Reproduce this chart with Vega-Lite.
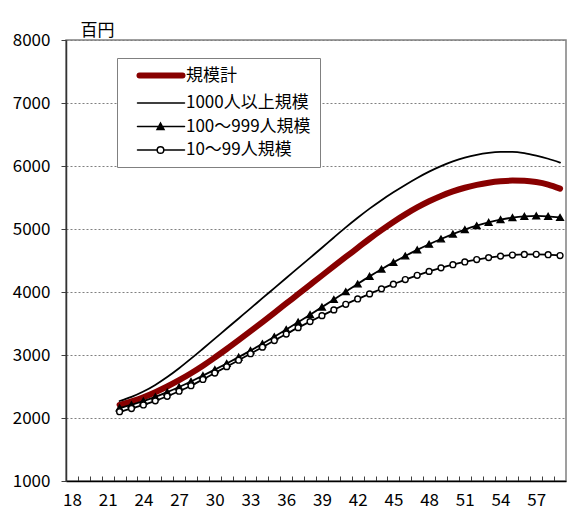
{
  "$schema": "https://vega.github.io/schema/vega-lite/v6.json",
  "width": 500,
  "height": 441,
  "autosize": {"type": "none"},
  "padding": {"left": 66, "top": 40, "right": 12, "bottom": 43},
  "background": "white",
  "config": {
    "font": "Noto Sans CJK JP",
    "view": {"stroke": "#808080", "strokeWidth": 1.5}
  },
  "data": {
    "values": [
      {"age": 22, "規模計": 2210, "1000人以上規模": 2270, "100〜999人規模": 2160, "10〜99人規模": 2100},
      {"age": 23, "規模計": 2265, "1000人以上規模": 2335, "100〜999人規模": 2210, "10〜99人規模": 2150},
      {"age": 24, "規模計": 2330, "1000人以上規模": 2420, "100〜999人規模": 2268, "10〜99人規模": 2207},
      {"age": 25, "規模計": 2410, "1000人以上規模": 2525, "100〜999人規模": 2335, "10〜99人規模": 2272},
      {"age": 26, "規模計": 2500, "1000人以上規模": 2650, "100〜999人規模": 2410, "10〜99人規模": 2345},
      {"age": 27, "規模計": 2600, "1000人以上規模": 2790, "100〜999人規模": 2492, "10〜99人規模": 2425},
      {"age": 28, "規模計": 2710, "1000人以上規模": 2942, "100〜999人規模": 2580, "10〜99人規模": 2512},
      {"age": 29, "規模計": 2830, "1000人以上規模": 3100, "100〜999人規模": 2672, "10〜99人規模": 2612},
      {"age": 30, "規模計": 2960, "1000人以上規模": 3260, "100〜999人規模": 2767, "10〜99人規模": 2713},
      {"age": 31, "規模計": 3095, "1000人以上規模": 3420, "100〜999人規模": 2865, "10〜99人規模": 2815},
      {"age": 32, "規模計": 3235, "1000人以上規模": 3580, "100〜999人規模": 2966, "10〜99人規模": 2918},
      {"age": 33, "規模計": 3378, "1000人以上規模": 3740, "100〜999人規模": 3070, "10〜99人規模": 3020},
      {"age": 34, "規模計": 3523, "1000人以上規模": 3902, "100〜999人規模": 3178, "10〜99人規模": 3125},
      {"age": 35, "規模計": 3670, "1000人以上規模": 4062, "100〜999人規模": 3290, "10〜99人規模": 3230},
      {"age": 36, "規模計": 3818, "1000人以上規模": 4222, "100〜999人規模": 3405, "10〜99人規模": 3333},
      {"age": 37, "規模計": 3966, "1000人以上規模": 4382, "100〜999人規模": 3522, "10〜99人規模": 3434},
      {"age": 38, "規模計": 4114, "1000人以上規模": 4542, "100〜999人規模": 3640, "10〜99人規模": 3530},
      {"age": 39, "規模計": 4262, "1000人以上規模": 4702, "100〜999人規模": 3760, "10〜99人規模": 3625},
      {"age": 40, "規模計": 4410, "1000人以上規模": 4865, "100〜999人規模": 3882, "10〜99人規模": 3716},
      {"age": 41, "規模計": 4556, "1000人以上規模": 5025, "100〜999人規模": 4005, "10〜99人規模": 3805},
      {"age": 42, "規模計": 4700, "1000人以上規模": 5178, "100〜999人規模": 4128, "10〜99人規模": 3890},
      {"age": 43, "規模計": 4845, "1000人以上規模": 5323, "100〜999人規模": 4248, "10〜99人規模": 3970},
      {"age": 44, "規模計": 4982, "1000人以上規模": 5458, "100〜999人規模": 4362, "10〜99人規模": 4050},
      {"age": 45, "規模計": 5112, "1000人以上規模": 5583, "100〜999人規模": 4470, "10〜99人規模": 4124},
      {"age": 46, "規模計": 5232, "1000人以上規模": 5700, "100〜999人規模": 4572, "10〜99人規模": 4197},
      {"age": 47, "規模計": 5342, "1000人以上規模": 5810, "100〜999人規模": 4668, "10〜99人規模": 4265},
      {"age": 48, "規模計": 5440, "1000人以上規模": 5910, "100〜999人規模": 4758, "10〜99人規模": 4327},
      {"age": 49, "規模計": 5525, "1000人以上規模": 5998, "100〜999人規模": 4842, "10〜99人規模": 4383},
      {"age": 50, "規模計": 5597, "1000人以上規模": 6073, "100〜999人規模": 4920, "10〜99人規模": 4433},
      {"age": 51, "規模計": 5655, "1000人以上規模": 6133, "100〜999人規模": 4990, "10〜99人規模": 4477},
      {"age": 52, "規模計": 5700, "1000人以上規模": 6178, "100〜999人規模": 5052, "10〜99人規模": 4515},
      {"age": 53, "規模計": 5735, "1000人以上規模": 6208, "100〜999人規模": 5105, "10〜99人規模": 4546},
      {"age": 54, "規模計": 5758, "1000人以上規模": 6223, "100〜999人規模": 5148, "10〜99人規模": 4570},
      {"age": 55, "規模計": 5768, "1000人以上規模": 6225, "100〜999人規模": 5180, "10〜99人規模": 4587},
      {"age": 56, "規模計": 5765, "1000人以上規模": 6205, "100〜999人規模": 5200, "10〜99人規模": 4596},
      {"age": 57, "規模計": 5745, "1000人以上規模": 6165, "100〜999人規模": 5208, "10〜99人規模": 4598},
      {"age": 58, "規模計": 5705, "1000人以上規模": 6115, "100〜999人規模": 5202, "10〜99人規模": 4592},
      {"age": 59, "規模計": 5640, "1000人以上規模": 6055, "100〜999人規模": 5183, "10〜99人規模": 4578}
    ]
  },
  "transform": [
    {"fold": ["規模計", "1000人以上規模", "100〜999人規模", "10〜99人規模"], "as": ["series", "value"]}
  ],
  "encoding": {
    "x": {
      "field": "age",
      "type": "quantitative",
      "scale": {"domain": [17.5, 59.5], "nice": false, "zero": false},
      "axis": {
        "title": null,
        "values": [18,19,20,21,22,23,24,25,26,27,28,29,30,31,32,33,34,35,36,37,38,39,40,41,42,43,44,45,46,47,48,49,50,51,52,53,54,55,56,57,58,59],
        "labelExpr": "(datum.value - 18) % 3 == 0 ? datum.label : ''",
        "labelOverlap": false,
        "labelFlush": false,
        "labelBound": false,
        "tickOffset": -5.95,
        "labelOffset": 5.95,
        "tickSize": -5,
        "tickColor": "#404040",
        "labelPadding": 16,
        "labelFontSize": 17,
        "labelColor": "black",
        "domainColor": "black",
        "domainWidth": 1.5,
        "grid": false
      }
    },
    "y": {
      "field": "value",
      "type": "quantitative",
      "scale": {"domain": [1000, 8000], "nice": false, "zero": false},
      "axis": {
        "title": "百円",
        "titleAngle": 0,
        "titleAlign": "left",
        "titleBaseline": "bottom",
        "titleX": 14,
        "titleY": -1,
        "titleFontSize": 17,
        "titleFontWeight": "normal",
        "titleColor": "black",
        "values": [1000,2000,3000,4000,5000,6000,7000,8000],
        "format": "d",
        "labelFontSize": 17,
        "labelColor": "black",
        "tickSize": 5,
        "tickColor": "#404040",
        "labelPadding": 11,
        "domainColor": "#333333",
        "domainWidth": 1.5,
        "grid": true,
        "gridColor": "#808080",
        "gridDash": [2, 2],
        "gridWidth": 1
      }
    }
  },
  "layer": [
    {
      "mark": {"type": "line", "interpolate": "monotone", "strokeCap": "round", "strokeJoin": "round"},
      "encoding": {
        "color": {
          "field": "series",
          "type": "nominal",
          "sort": ["規模計", "1000人以上規模", "100〜999人規模", "10〜99人規模"],
          "scale": {
            "domain": ["規模計", "1000人以上規模", "100〜999人規模", "10〜99人規模"],
            "range": ["#880000", "#000000", "#000000", "#000000"]
          },
          "legend": {
            "title": null,
            "orient": "none",
            "legendX": 51,
            "legendY": 18,
            "padding": 9,
            "strokeColor": "#808080",
            "fillColor": "white",
            "labelFontSize": 17,
            "labelColor": "black",
            "labelLimit": 300,
            "symbolSize": 100,
            "labelOffset": 43,
            "rowPadding": 5.5,
            "symbolType": "stroke",
            "encode": {
              "symbols": {
                "update": {
                  "shape": {"signal": "datum.value === '100〜999人規模' ? 'M0.6,0H10M4.5,0.6L5.2,-0.7L5.9,0.6Z' : datum.value === '10〜99人規模' ? 'M0.6,0H4.54M5.86,0H10M4.54,0A0.66,0.66 0 1,0 5.86,0A0.66,0.66 0 1,0 4.54,0' : datum.value === '規模計' ? 'M1.0,0H9.6' : 'M0.6,0H10'"},
                  "strokeWidth": {"signal": "datum.value === '規模計' ? 6 : 1.5"},
                  "fill": {"signal": "datum.value === '100〜999人規模' ? 'black' : datum.value === '10〜99人規模' ? 'white' : 'transparent'"},
                  "stroke": {"signal": "datum.value === '規模計' ? '#880000' : 'black'"},
                  "strokeCap": {"value": "round"},
                  "opacity": {"value": 1}
                }
              }
            }
          }
        },
        "strokeWidth": {
          "condition": {"test": "datum.series === '規模計'", "value": 6},
          "value": 1.8
        }
      }
    },
    {
      "transform": [{"filter": {"field": "series", "oneOf": ["100〜999人規模", "10〜99人規模"]}}],
      "mark": {"type": "point", "stroke": "black", "strokeWidth": 1.4, "opacity": 1, "fillOpacity": 1},
      "encoding": {
        "shape": {
          "field": "series",
          "type": "nominal",
          "scale": {"domain": ["100〜999人規模", "10〜99人規模"], "range": ["triangle-up", "circle"]},
          "legend": null
        },
        "fill": {
          "field": "series",
          "type": "nominal",
          "scale": {"domain": ["100〜999人規模", "10〜99人規模"], "range": ["black", "white"]},
          "legend": null
        },
        "size": {
          "field": "series",
          "type": "nominal",
          "scale": {"domain": ["100〜999人規模", "10〜99人規模"], "range": [45, 34]},
          "legend": null
        }
      }
    }
  ]
}
